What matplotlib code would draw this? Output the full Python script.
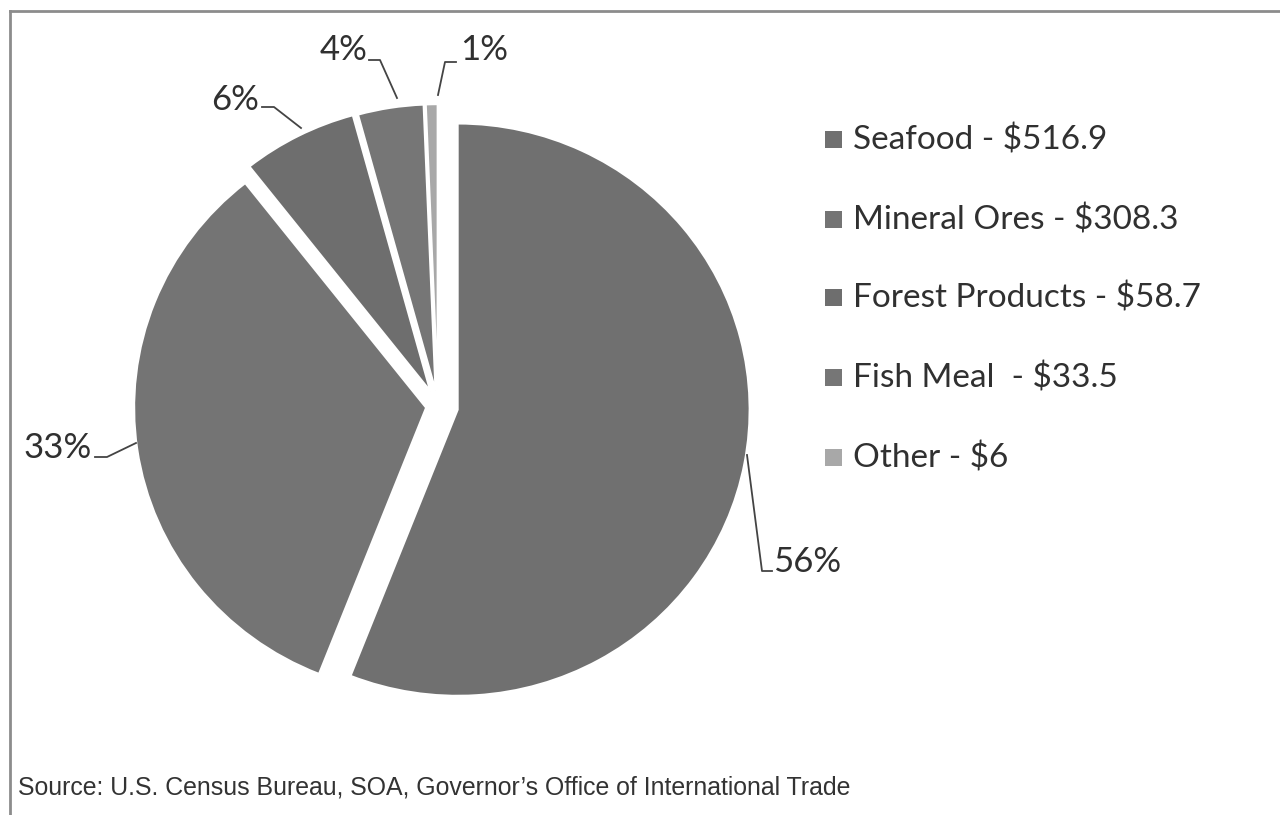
import matplotlib.pyplot as plt
from matplotlib.patches import Rectangle

# Alaska exports by category (millions $)
categories = ['Seafood', 'Mineral Ores', 'Forest Products', 'Fish Meal', 'Other']
values = [516.9, 308.3, 58.7, 33.5, 6]
legend_labels = ['Seafood - $516.9', 'Mineral Ores - $308.3', 'Forest Products - $58.7',
                 'Fish Meal  - $33.5', 'Other - $6']
colors = ['#707070', '#747474', '#6e6e6e', '#767676', '#a8a8a8']

W, H = 1280, 815
SY = 0.98  # slight vertical squash, like the tilted 3-D pie
fig = plt.figure(figsize=(W / 100, H / 100), dpi=100)
ax = fig.add_axes([0, 0, 1, 1])


def py(y):
    # pixel row (from top) -> data y
    return (H - y) / SY


# pie (coordinates in pixels); explode is in pixels too
cx, cy, r = 438, py(406), 292
wedges, _ = ax.pie(values, colors=colors, startangle=90, counterclock=False,
                   center=(cx, cy), radius=r, frame=True,
                   explode=[20, 12, 17, 16, 16],
                   wedgeprops=dict(edgecolor='white', linewidth=1.5))
ax.set_xlim(0, W)
ax.set_ylim(0, H / SY)
ax.set_aspect('auto')
ax.axis('off')

# percentage labels with elbow leader lines
total = sum(values)
pcts = [f'{round(v / total * 100)}%' for v in values]
label_pos = [(773, 562, 'left'), (92, 448, 'right'), (259, 100, 'right'),
             (368, 50, 'right'), (460, 50, 'left')]
leaders = [
    [(747, 455), (762, 571), (772, 571)],
    [(95, 457), (107, 457), (136, 443)],
    [(262, 107), (274, 107), (301, 128)],
    [(369, 60), (380, 60), (397, 98)],
    [(456, 62), (445, 62), (438, 95)],
]
txt_font = ['Lato', 'DejaVu Sans']
for p, (tx, ty, ha), pts in zip(pcts, label_pos, leaders):
    ax.text(tx, py(ty), p, ha=ha, va='center', fontsize=25, color='#303030',
            family=txt_font)
    ax.plot([q[0] for q in pts], [py(q[1]) for q in pts], color='#444444', lw=1.3)

# legend
leg_y = [140, 220, 298, 378, 458]
for lab, col, y in zip(legend_labels, colors, leg_y):
    ax.add_patch(Rectangle((825, py(y + 8)), 17, 17 / SY, facecolor=col, edgecolor='none'))
    ax.text(853, py(y), lab, ha='left', va='center', fontsize=24, color='#303030',
            family=txt_font)

# source note
ax.text(18, py(788), "Source: U.S. Census Bureau, SOA, Governor\u2019s Office of International Trade",
        ha='left', va='center', fontsize=17.9, color='#333333', family='Liberation Sans')

# frame lines (top and left)
ax.plot([10, W], [py(11), py(11)], color='#8c8c8c', lw=2, clip_on=False)
ax.plot([10, 10], [py(11), py(H)], color='#8c8c8c', lw=2, clip_on=False)

fig.savefig('out.png', dpi=100, facecolor='white')
